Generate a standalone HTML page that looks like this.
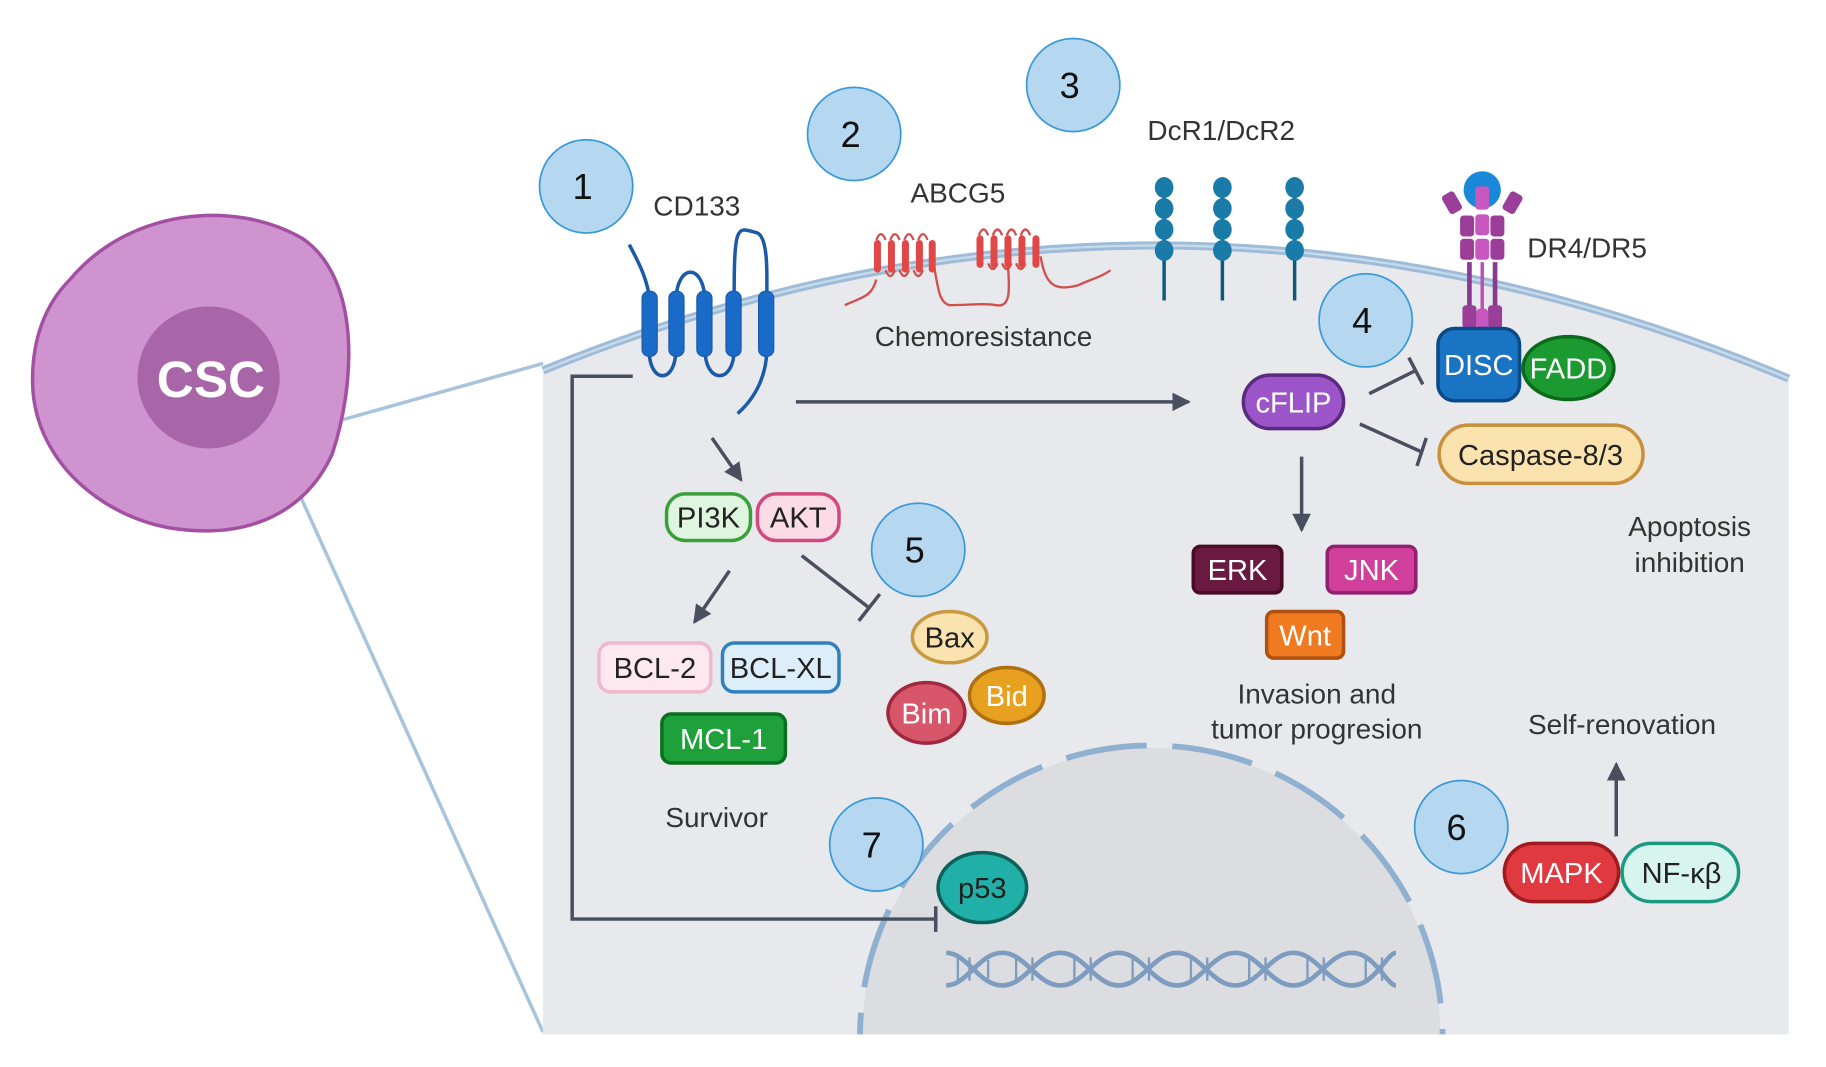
<!DOCTYPE html>
<html><head><meta charset="utf-8"><style>
html,body{margin:0;padding:0;background:#fff;width:1826px;height:1067px;overflow:hidden}
svg{display:block;overflow:hidden}
text{font-family:"Liberation Sans",sans-serif}
</style></head><body>
<svg width="1826" height="1067" viewBox="0 0 1567 916" preserveAspectRatio="none" xmlns="http://www.w3.org/2000/svg" style="max-height:1067px">
<defs>
<marker id="ar2" markerWidth="16" markerHeight="16" refX="14" refY="8" orient="auto" markerUnits="userSpaceOnUse" viewBox="0 0 16 16"><path d="M0,0 L16,8 L0,16 z" fill="#4a4f60"/></marker>
<clipPath id="cellclip"><rect x="466" y="0" width="1069" height="888"/></clipPath>
</defs>
<line x1="288" y1="362" x2="466" y2="312" stroke="#a8c4dc" stroke-width="3"/>
<line x1="255" y1="420" x2="466" y2="886" stroke="#a8c4dc" stroke-width="3"/>
<path d="M60,240 C110,180 200,170 260,205 C310,240 305,330 285,390 C262,440 215,460 160,455 C95,450 30,400 28,330 C27,290 40,260 60,240 z" fill="#cf93d0" stroke="#a350a3" stroke-width="3"/>
<circle cx="179" cy="324" r="61" fill="#a865a8"/>
<text x="181" y="341" font-size="44" font-weight="bold" fill="#fff" text-anchor="middle">CSC</text>
<path d="M466,318 Q1000,100 1535,325 L1535,888 L466,888 z" fill="#e8e9ec"/>
<path d="M466,318 Q1000,100 1535,325" fill="none" stroke="#9ebbd8" stroke-width="7"/>
<path d="M466,318 Q1000,100 1535,325" fill="none" stroke="#c7dbeb" stroke-width="2"/>
<g clip-path="url(#cellclip)">
<circle cx="988" cy="890" r="248" fill="#dcdde1"/>
<circle cx="988" cy="890" r="250" fill="none" stroke="#8fb0d0" stroke-width="5" stroke-dasharray="70,22"/>
</g>
<g fill="none" stroke="#7d9cc0" stroke-width="4">
<path d="M812,818 C830,818 840,846 860,846 C880,846 890,818 910,818 C930,818 940,846 960,846 C980,846 990,818 1010,818 C1030,818 1040,846 1060,846 C1080,846 1090,818 1110,818 C1130,818 1140,846 1160,846 C1180,846 1190,818 1198,818"/>
<path d="M812,846 C830,846 840,818 860,818 C880,818 890,846 910,846 C930,846 940,818 960,818 C980,818 990,846 1010,846 C1030,846 1040,818 1060,818 C1080,818 1090,846 1110,846 C1130,846 1140,818 1160,818 C1180,818 1190,846 1198,846"/>
</g>
<g stroke="#7d9cc0" stroke-width="2"><path d="M822,820v24M832,822v20M848,824v16M872,822v20M886,822v20M922,822v20M936,822v20M972,822v20M986,822v20M1022,822v20M1036,822v20M1072,822v20M1086,822v20M1122,822v20M1136,822v20M1172,822v20M1186,822v20"/></g>
<g fill="none" stroke="#1a5aa8" stroke-width="3">
<path d="M540,210 C548,225 556,240 558,260"/>
<path d="M557,300 C557,330 580,330 580,300"/>
<path d="M580,260 C580,225 605,225 605,260"/>
<path d="M605,300 C605,330 630,330 630,300"/>
<path d="M630,260 C630,190 632,195 650,200 C660,205 658,240 658,260"/>
<path d="M658,300 C658,320 650,340 633,355"/>
</g>
<g fill="#1a6ac8" stroke="#1a5aa8" stroke-width="1">
<rect x="551" y="250" width="13" height="56" rx="6"/><rect x="574" y="250" width="13" height="56" rx="6"/><rect x="598" y="250" width="13" height="56" rx="6"/><rect x="623" y="250" width="13" height="56" rx="6"/><rect x="651" y="250" width="13" height="56" rx="6"/>
</g>
<g fill="none" stroke="#d05050" stroke-width="2">
<path d="M725,262 C740,255 748,255 752,240 M800,220 C805,245 805,260 815,262 C830,262 845,260 855,262 C870,265 865,240 865,225"/>
<path d="M893,220 C897,245 905,250 925,245 C935,240 945,238 953,232"/>
<path d="M752,206 q4,-10 8,0 M764,206 q4,-10 8,0 M776,206 q4,-10 8,0 M788,206 q4,-10 8,0 M760,232 q4,10 8,0 M772,232 q4,10 8,0 M784,232 q4,10 8,0"/>
<path d="M840,202 q4,-10 8,0 M852,202 q4,-10 8,0 M864,202 q4,-10 8,0 M876,202 q4,-10 8,0 M848,226 q4,10 8,0 M860,226 q4,10 8,0 M872,226 q4,10 8,0"/>
</g>
<g fill="#e04848">
<rect x="750" y="206" width="6" height="28" rx="3"/><rect x="762" y="206" width="6" height="28" rx="3"/><rect x="774" y="206" width="6" height="28" rx="3"/><rect x="786" y="206" width="6" height="28" rx="3"/><rect x="797" y="206" width="6" height="28" rx="3"/>
<rect x="838" y="202" width="6" height="28" rx="3"/><rect x="850" y="202" width="6" height="28" rx="3"/><rect x="862" y="202" width="6" height="28" rx="3"/><rect x="874" y="202" width="6" height="28" rx="3"/><rect x="886" y="202" width="6" height="28" rx="3"/>
</g>
<g stroke="#0e5a78" stroke-width="3"><line x1="999" y1="160" x2="999" y2="258"/><line x1="1049" y1="160" x2="1049" y2="258"/><line x1="1111" y1="160" x2="1111" y2="258"/></g>
<g fill="#1a7aa8">
<ellipse cx="999" cy="161" rx="8" ry="9"/><ellipse cx="999" cy="179" rx="8" ry="9"/><ellipse cx="999" cy="197" rx="8" ry="9"/><ellipse cx="999" cy="215" rx="8" ry="9"/>
<ellipse cx="1049" cy="161" rx="8" ry="9"/><ellipse cx="1049" cy="179" rx="8" ry="9"/><ellipse cx="1049" cy="197" rx="8" ry="9"/><ellipse cx="1049" cy="215" rx="8" ry="9"/>
<ellipse cx="1111" cy="161" rx="8" ry="9"/><ellipse cx="1111" cy="179" rx="8" ry="9"/><ellipse cx="1111" cy="197" rx="8" ry="9"/><ellipse cx="1111" cy="215" rx="8" ry="9"/>
</g>
<g stroke="#8a3a90" stroke-width="4"><line x1="1261" y1="225" x2="1261" y2="282"/><line x1="1283" y1="225" x2="1283" y2="282"/></g>
<line x1="1272" y1="225" x2="1272" y2="282" stroke="#c050b8" stroke-width="3"/>
<g fill="#9a3e9a">
<rect x="1240" y="165" width="12" height="18" rx="3" transform="rotate(-30 1246 174)"/><rect x="1292" y="165" width="12" height="18" rx="3" transform="rotate(30 1298 174)"/>
<rect x="1253" y="185" width="12" height="18" rx="3"/><rect x="1279" y="185" width="12" height="18" rx="3"/>
<rect x="1253" y="205" width="12" height="18" rx="3"/><rect x="1279" y="205" width="12" height="18" rx="3"/>
<rect x="1255" y="262" width="12" height="20" rx="3"/><rect x="1277" y="262" width="12" height="20" rx="3"/>
</g>
<circle cx="1272" cy="163" r="16" fill="#1a88d8"/>
<g fill="#c858c0"><rect x="1266" y="160" width="12" height="20" rx="3"/><rect x="1266" y="184" width="12" height="18" rx="3"/><rect x="1266" y="205" width="12" height="18" rx="3"/><rect x="1267" y="265" width="10" height="18" rx="3"/></g>
<g stroke="#4a4f60" stroke-width="3" fill="none">
<line x1="683" y1="345" x2="1020" y2="345" marker-end="url(#ar2)"/>
<line x1="611" y1="376" x2="636" y2="412" marker-end="url(#ar2)"/>
<line x1="626" y1="490" x2="596" y2="534" marker-end="url(#ar2)"/>
<line x1="1117" y1="392" x2="1117" y2="455" marker-end="url(#ar2)"/>
<line x1="1387" y1="718" x2="1387" y2="656" marker-end="url(#ar2)"/>
<line x1="688" y1="477" x2="746" y2="522"/><line x1="737" y1="533" x2="755" y2="510"/>
<line x1="1175" y1="338" x2="1215" y2="318"/><line x1="1209" y1="307" x2="1221" y2="330"/>
<line x1="1167" y1="364" x2="1220" y2="388"/><line x1="1224" y1="376" x2="1216" y2="400"/>
<polyline points="543,323 491,323 491,789 803,789"/><line x1="803" y1="778" x2="803" y2="800"/>
</g>
<g fill="#b5d8f0" stroke="#3a9ad8" stroke-width="1.5">
<circle cx="503" cy="160" r="40"/><circle cx="733" cy="115" r="40"/><circle cx="921" cy="73" r="40"/><circle cx="1172" cy="275" r="40"/><circle cx="788" cy="472" r="40"/><circle cx="1254" cy="710" r="40"/><circle cx="752" cy="725" r="40"/>
</g>
<g font-size="31" fill="#111" text-anchor="middle">
<text x="500" y="171">1</text><text x="730" y="126">2</text><text x="918" y="84">3</text><text x="1169" y="286">4</text><text x="785" y="483">5</text><text x="1250" y="721">6</text><text x="748" y="736">7</text>
</g>
<g font-size="24" fill="#333" text-anchor="middle">
<text x="598" y="185">CD133</text><text x="822" y="174">ABCG5</text><text x="1048" y="120">DcR1/DcR2</text><text x="1362" y="221">DR4/DR5</text>
<text x="844" y="297">Chemoresistance</text><text x="1450" y="460">Apoptosis</text><text x="1450" y="491">inhibition</text>
<text x="1130" y="604">Invasion and</text><text x="1130" y="634">tumor progresion</text><text x="1392" y="630">Self-renovation</text><text x="615" y="710">Survivor</text>
</g>
<g stroke-width="3">
<rect x="572" y="424" width="72" height="40" rx="16" fill="#dff5df" stroke="#3aa03a"/>
<rect x="650" y="424" width="70" height="40" rx="16" fill="#fadbe6" stroke="#d04a80"/>
<rect x="514" y="552" width="96" height="42" rx="10" fill="#fde8f0" stroke="#f0b8cc"/>
<rect x="620" y="552" width="100" height="42" rx="10" fill="#dceefa" stroke="#3080c0"/>
<rect x="568" y="613" width="106" height="42" rx="8" fill="#1ea03a" stroke="#0a7020"/>
<ellipse cx="815" cy="547" rx="32" ry="22" fill="#fbe3b0" stroke="#c89a40"/>
<ellipse cx="864" cy="597" rx="32" ry="24" fill="#e8a020" stroke="#b07010"/>
<ellipse cx="795" cy="612" rx="33" ry="26" fill="#d8566a" stroke="#a02840"/>
<rect x="1067" y="322" width="86" height="46" rx="23" fill="#9b55c8" stroke="#5a2a80"/>
<ellipse cx="1346" cy="316" rx="39" ry="27" fill="#1a9a30" stroke="#0a6a1a"/>
<rect x="1234" y="282" width="70" height="62" rx="14" fill="#1a74c4" stroke="#0a4a88"/>
<rect x="1235" y="365" width="175" height="50" rx="25" fill="#fbe3b0" stroke="#c8903a"/>
<rect x="1024" y="469" width="76" height="40" rx="6" fill="#6a1a40" stroke="#4a0a28"/>
<rect x="1139" y="469" width="76" height="40" rx="6" fill="#d0409a" stroke="#902070"/>
<rect x="1087" y="525" width="66" height="40" rx="6" fill="#f07a20" stroke="#b05010"/>
<rect x="1392" y="724" width="100" height="50" rx="25" fill="#d8f4ee" stroke="#1a9a80"/>
<rect x="1291" y="724" width="98" height="50" rx="25" fill="#e03a40" stroke="#a01a20"/>
<ellipse cx="843" cy="762" rx="38" ry="30" fill="#20b0a8" stroke="#10605a"/>
</g>
<g font-size="25" text-anchor="middle" fill="#222">
<text x="608" y="453">PI3K</text><text x="685" y="453">AKT</text>
<text x="562" y="582">BCL-2</text><text x="670" y="582">BCL-XL</text>
<text x="621" y="643" fill="#fff">MCL-1</text>
<text x="815" y="556">Bax</text><text x="864" y="606" fill="#fff">Bid</text><text x="795" y="621" fill="#fff">Bim</text>
<text x="1110" y="354" fill="#fff">cFLIP</text>
<text x="1269" y="322" fill="#fff">DISC</text><text x="1346" y="325" fill="#fff">FADD</text>
<text x="1322" y="399">Caspase-8/3</text>
<text x="1062" y="498" fill="#fff">ERK</text><text x="1177" y="498" fill="#fff">JNK</text><text x="1120" y="554" fill="#fff">Wnt</text>
<text x="1340" y="758" fill="#fff">MAPK</text><text x="1443" y="758">NF-κβ</text>
<text x="843" y="771">p53</text>
</g>
</svg>
</body></html>
